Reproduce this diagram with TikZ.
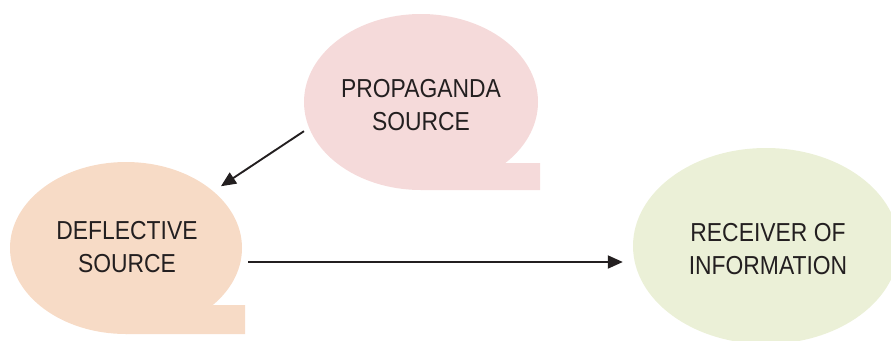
\documentclass[tikz,border=0pt]{standalone}
\usepackage{fontspec}
\setmainfont[FakeStretch=0.88]{Liberation Sans}
\usetikzlibrary{shapes.geometric,arrows.meta,calc}
\definecolor{propc}{HTML}{F5DADA}
\definecolor{deflc}{HTML}{F7DBC6}
\definecolor{recvc}{HTML}{EBF0D7}
\definecolor{inkc}{HTML}{231F20}

\begin{document}
\begin{tikzpicture}[x=1pt,y=-1pt,
  bubble/.style={ellipse,inner sep=0pt},
  lbl/.style={align=center,text=inkc,font=\fontsize{26}{33.5}\selectfont},
  arr/.style={line width=1.9pt,draw=inkc,-{Triangle[length=15pt,width=13pt]}}]
\clip(0,0) rectangle (891,340);
\node[bubble,fill=propc,minimum width=234,minimum height=176](prop) at (421,102) {};
\node[bubble,fill=deflc,minimum width=232,minimum height=172](defl) at (126,248) {};
\node[bubble,fill=recvc,minimum width=266,minimum height=196](recv) at (766,246) {};
\fill[propc]($(prop.center)+(84,61)$) -- ++(35,0) |- (prop.south) -- cycle;
\fill[deflc]($(defl.center)+(87,57)$) -- ++(32,0) |- (defl.south) -- cycle;
\node[lbl](propt) at (421,105) {PROPAGANDA\\SOURCE};
\node[lbl](deflt) at (127,247) {DEFLECTIVE\\SOURCE};
\node[lbl](recvt) at (768,249) {RECEIVER OF\\INFORMATION};

\draw[arr,shorten <=6pt,shorten >=9pt](prop.193) -- (defl.33);
\draw[arr]([xshift=6pt,yshift=-14pt]defl.east) -- ([xshift=-10pt,yshift=-16pt]recv.west);
\end{tikzpicture}
\end{document}
